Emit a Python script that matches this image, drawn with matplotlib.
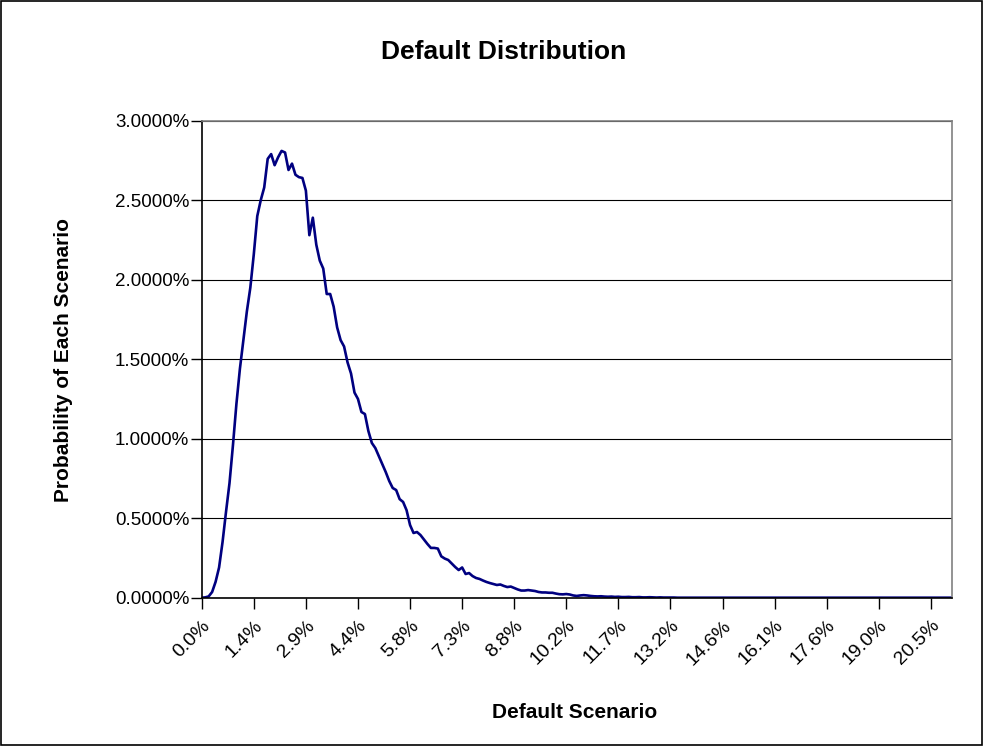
import matplotlib
matplotlib.use('Agg')
import matplotlib.pyplot as plt
from matplotlib.ticker import FuncFormatter

plt.rcParams['font.family'] = ['Liberation Sans Narrow', 'Liberation Sans', 'DejaVu Sans']

# probability of each default scenario, in percent
prob_head = [
    0.000, 0.002, 0.008, 0.036, 0.10, 0.19, 0.35, 0.54, 0.72, 0.96,
    1.22, 1.44, 1.62, 1.80, 1.95, 2.16, 2.40, 2.50, 2.58, 2.76,
    2.79, 2.72, 2.77, 2.81, 2.80, 2.69, 2.73, 2.66, 2.645, 2.64,
    2.56, 2.28, 2.39, 2.22, 2.12, 2.07, 1.91, 1.91, 1.83, 1.70,
    1.62, 1.58, 1.48, 1.41, 1.29, 1.25, 1.168, 1.155, 1.048, 0.973,
    0.941, 0.891, 0.841, 0.79, 0.734, 0.69, 0.677, 0.62, 0.602, 0.55,
    0.457, 0.407, 0.413, 0.394, 0.366, 0.338, 0.313, 0.313, 0.309, 0.26,
    0.246, 0.237, 0.215, 0.193, 0.174, 0.19, 0.149, 0.155, 0.136, 0.124,
    0.118, 0.108, 0.099, 0.092, 0.086, 0.080, 0.083, 0.074, 0.067, 0.070,
    0.061, 0.052, 0.045, 0.045, 0.048, 0.045, 0.042, 0.036, 0.033, 0.033,
    0.031, 0.031, 0.026, 0.022, 0.021, 0.023, 0.020, 0.014, 0.011, 0.014,
    0.016, 0.014, 0.011, 0.009, 0.008, 0.009, 0.007, 0.006, 0.007, 0.005,
    0.006, 0.004, 0.004, 0.005, 0.003, 0.003, 0.004, 0.002, 0.002, 0.003,
    0.002, 0.001, 0.002, 0.001, 0.001, 0.001, 0.001,
]
n_scenarios = 217
prob = prob_head + [0.0] * (n_scenarios - len(prob_head))

tick_labels = ['0.0%', '1.4%', '2.9%', '4.4%', '5.8%', '7.3%', '8.8%', '10.2%',
               '11.7%', '13.2%', '14.6%', '16.1%', '17.6%', '19.0%', '20.5%']
label_every = 15

fig = plt.figure(figsize=(9.83, 7.46), dpi=100)
ax = fig.add_axes([0.2052, 0.1988, 0.763, 0.6394])

x = list(range(n_scenarios))
ax.plot(x, prob, color='#000080', lw=1.9, solid_joinstyle='round')

ax.set_xlim(0, n_scenarios - 1)
ax.set_ylim(0, 3.0)
ax.set_yticks([0, 0.5, 1.0, 1.5, 2.0, 2.5, 3.0])
ax.yaxis.set_major_formatter(FuncFormatter(lambda v, p: f'{v:.4f}%'))
ax.set_xticks([i * label_every for i in range(len(tick_labels))])
ax.set_xticklabels(tick_labels, rotation=45, ha='right', rotation_mode='anchor')

ax.grid(axis='y', color='black', lw=0.8)
ax.set_axisbelow(True)
ax.tick_params(axis='both', direction='out', length=8, width=1, color='black',
               labelsize=13.5)
ax.tick_params(axis='y', pad=1)
ax.tick_params(axis='x', pad=6, labelsize=14)
for s in ['top', 'right']:
    ax.spines[s].set_color('#808080')
    ax.spines[s].set_linewidth(1.2)
for s in ['left', 'bottom']:
    ax.spines[s].set_color('black')
    ax.spines[s].set_linewidth(1.2)

fig.text(0.512, 0.930, 'Default Distribution', ha='center', va='center',
         fontsize=19, fontweight='bold')
fig.text(0.585, 0.045, 'Default Scenario', ha='center', va='center',
         fontsize=15, fontweight='bold')
fig.text(0.065, 0.517, 'Probability of Each Scenario', ha='center', va='center',
         rotation=90, fontsize=15, fontweight='bold')

# outer chart border
fig.patches.append(plt.Rectangle((0.001, 0.001), 0.998, 0.998, transform=fig.transFigure,
                                 fill=False, edgecolor='black', lw=1.2))

fig.savefig('out.png', dpi=100)
